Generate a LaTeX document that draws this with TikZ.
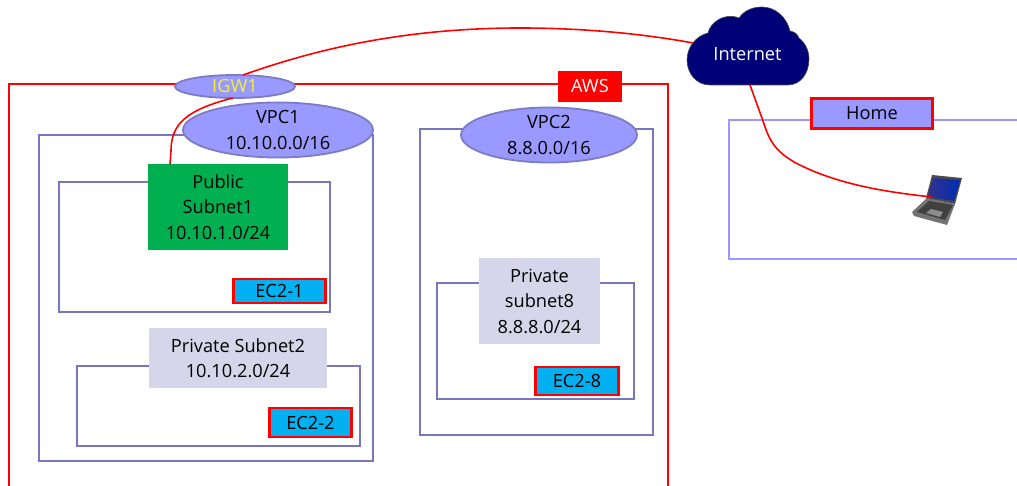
\documentclass[tikz,border=0pt]{standalone}
\usepackage{fontspec}
\setmainfont{Open Sans}
\usetikzlibrary{shapes.geometric}
\definecolor{boxline}{HTML}{7777C0}
\definecolor{ellfill}{HTML}{9999FF}
\definecolor{ellline}{HTML}{7C7CC4}
\definecolor{navycloud}{HTML}{000077}
\definecolor{lav}{HTML}{D6D6EA}
\definecolor{grn}{HTML}{00B050}
\definecolor{cya}{HTML}{00B0F0}
\definecolor{redl}{HTML}{FF0000}
\definecolor{yel}{HTML}{F2F230}
\tikzset{
  frame/.style={draw=boxline,line width=1.9pt},
  redframe/.style={draw=redl,line width=2pt},
  homeframe/.style={draw=ellfill,line width=1.9pt},
  lbl/.style={font=\fontsize{18.2}{25.5}\selectfont,align=center,text=black,inner sep=0pt,outer sep=0pt},
  ell/.style={ellipse,draw=ellline,line width=1.8pt,fill=ellfill,lbl},
  subl/.style={rectangle,lbl},
  ecbox/.style={rectangle,draw=redl,line width=2.2pt,fill=cya,lbl},
  conn/.style={draw=redl,line width=1.6pt},
}
\begin{document}
\begin{tikzpicture}[x=1pt,y=-1pt]
\useasboundingbox (0,0) rectangle (1017,486);
% frames
\draw[redframe] (9,486) -- (9,84) -- (668,84) -- (668,486);
\draw[frame] (39,135) rectangle (373,461);
\draw[frame] (59,182) rectangle (330,312);
\draw[frame] (77,366) rectangle (360,446);
\draw[frame] (420,129) rectangle (653,435);
\draw[frame] (437,283) rectangle (634,399);
\draw[homeframe] (1017,120) -- (729,120) -- (729,259) -- (1017,259);
% labels
\node[subl,fill=grn,minimum width=140pt,minimum height=86pt] (pub) at (218,207) {Public\\Subnet1\\10.10.1.0/24};
\node[subl,fill=lav,minimum width=178pt,minimum height=60pt] (priv2) at (238,358) {Private Subnet2\\10.10.2.0/24};
\node[subl,fill=lav,minimum width=121pt,minimum height=86pt] (priv8) at (539.5,301) {Private\\subnet8\\8.8.8.0/24};
\node[ecbox,minimum width=92pt,minimum height=24pt] (ec1) at (279.5,291) {EC2-1};
\node[ecbox,minimum width=82pt,minimum height=29pt] (ec2) at (310.5,422.5) {EC2-2};
\node[ecbox,minimum width=83pt,minimum height=28pt] (ec8) at (577,381) {EC2-8};
\node[rectangle,draw=redl,line width=2.2pt,fill=ellfill,lbl,minimum width=121pt,minimum height=30pt] (home) at (872,113.5) {Home};
\node[rectangle,fill=redl,lbl,text=white,minimum width=64pt,minimum height=31pt] (aws) at (590,86.5) {AWS};
\node[ell,minimum width=120pt,minimum height=23pt,text=yel] (igw) at (235,86.5) {IGW1};
\node[ell,minimum width=190pt,minimum height=44pt] (vpc1) at (278,130) {VPC1\\10.10.0.0/16};
\node[ell,minimum width=176pt,minimum height=50pt] (vpc2) at (549,135) {VPC2\\8.8.0.0/16};
% cloud
\fill[navycloud,draw=black!70,line width=.6pt]
  (710,85) .. controls (696,85) and (687,73) .. (687,60)
  .. controls (687,47) and (696,36) .. (708,33)
  .. controls (710,23) and (724,12) .. (739,18)
  .. controls (745,9) and (755,7) .. (762,7)
  .. controls (776,7) and (787,18) .. (790,31)
  .. controls (794,32) and (797,33) .. (799,38)
  .. controls (805,43) and (809,50) .. (809,59)
  .. controls (809,74) and (800,85) .. (788,85) -- cycle;
\node[lbl,text=white] (net) at (747.5,54) {Internet};
% laptop
\begin{scope}
\fill[black!55] (927,198) -- (912,212) -- (914,216) -- (947,225) -- (955,204) -- cycle;
\fill[black!75] (929,201) -- (917,212) -- (945,220) -- (953,205) -- cycle;
\fill[black!45] (931,209) -- (926,213) -- (940,217) -- (943,212) -- cycle;
\fill[black!70] (932,175) -- (962,178) -- (955,204) -- (926,198) -- cycle;
\shade[left color=blue!45!black!80,right color=blue!75!cyan!70!black] (933,178) -- (960,180) -- (954,201) -- (928,197) -- cycle;
\end{scope}
% connectors
\coordinate (lap) at (932,197);
\coordinate (netw) at (693,43);
\coordinate (nets) at (750,85);
\draw[conn] (igw.north) ++(8,0) .. controls (300,55) and (390,28) .. (520,28) .. controls (590,28) and (650,35) .. (netw);
\draw[conn] (pub.north west) ++(22,0) -- ++(1,-13) .. controls (171,125) and (185,110) .. (233,98);
\draw[conn] (nets) -- (763,121) .. controls (770,143) and (776,151) .. (794,162) .. controls (835,184) and (885,192) .. (lap);
\end{tikzpicture}
\end{document}
